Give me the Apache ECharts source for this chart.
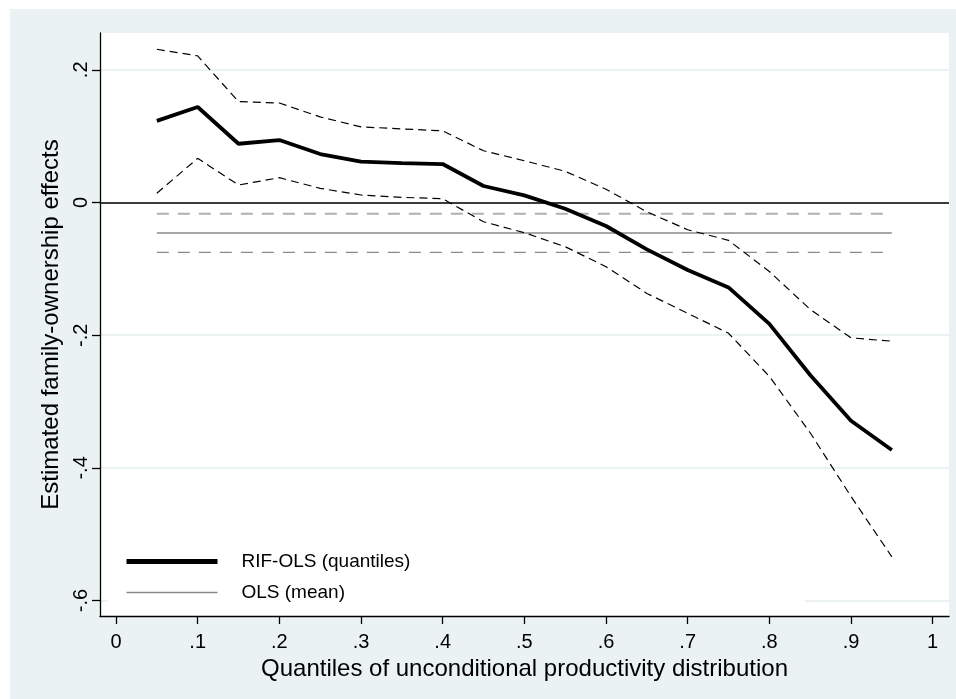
<!DOCTYPE html>
<html>
<head>
<meta charset="utf-8">
<script src="https://cdn.jsdelivr.net/npm/echarts@6/dist/echarts.min.js"></script>
<style>
  html, body { margin: 0; padding: 0; background: #ffffff; }
  #wrap { position: absolute; left: 10px; top: 9px; width: 946px; height: 690px; background: #EAF2F3; }
  #chart { width: 946px; height: 690px; }
</style>
</head>
<body>
<div id="wrap"><div id="chart"></div></div>
<script>
// ---- data ----
const quantiles = [0.05, 0.10, 0.15, 0.20, 0.25, 0.30, 0.35, 0.40, 0.45, 0.50,
                   0.55, 0.60, 0.65, 0.70, 0.75, 0.80, 0.85, 0.90, 0.95];
const rifOls = [0.123, 0.144, 0.0886, 0.0942, 0.0731, 0.0615, 0.0595, 0.058, 0.0249, 0.0108,
                -0.0093, -0.0354, -0.0706, -0.1017, -0.128, -0.183, -0.260, -0.329, -0.373];
const rifUpper = [0.231, 0.221, 0.152, 0.150, 0.129, 0.114, 0.111, 0.108, 0.078, 0.063,
                  0.047, 0.020, -0.014, -0.041, -0.057, -0.104, -0.161, -0.204, -0.209];
const rifLower = [0.014, 0.0666, 0.0264, 0.0374, 0.0214, 0.0113, 0.0078, 0.0057, -0.029, -0.0455,
                  -0.0666, -0.0967, -0.137, -0.167, -0.197, -0.262, -0.347, -0.443, -0.534];
const olsMean = -0.046;
const olsUpper = -0.017;
const olsLower = -0.075;
const xTicks = [0, 0.1, 0.2, 0.3, 0.4, 0.5, 0.6, 0.7, 0.8, 0.9, 1];
const yTicks = [-0.6, -0.4, -0.2, 0, 0.2];
const legendNames = ['RIF-OLS (quantiles)', 'OLS (mean)'];

function pairs(vals) { return quantiles.map((q, i) => [q, vals[i]]); }
function flat(v) { return quantiles.map(q => [q, v]); }
function fmt(v) {
  if (Math.abs(v) < 1e-9) return '0';
  if (Math.abs(v - 1) < 1e-9) return '1';
  let s = String(Math.round(v * 10) / 10);
  return s.replace('0.', '.');
}

const FONT = '"Liberation Sans", Arial, sans-serif';
const chart = echarts.init(document.getElementById('chart'), null, { renderer: 'canvas' });

chart.setOption({
  backgroundColor: '#EAF2F3',
  animation: false,
  textStyle: { fontFamily: FONT, color: '#000' },
  grid: {
    left: 90, right: 7, top: 24, bottom: 83,
    show: true, backgroundColor: '#ffffff', borderWidth: 0
  },
  graphic: [{
    type: 'rect', z: 1,
    shape: { x: 98, y: 527, width: 697, height: 76 },
    style: { fill: '#ffffff' }
  }],
  legend: {
    data: [
      { name: legendNames[0], lineStyle: { width: 5, color: '#000' } },
      { name: legendNames[1], lineStyle: { width: 1.5, color: '#8a8a8a' } }
    ],
    orient: 'vertical',
    left: 109, top: 538,
    itemWidth: 91, itemHeight: 20, itemGap: 12,
    itemStyle: { opacity: 0 },
    textStyle: { fontFamily: FONT, fontSize: 19, color: '#000', padding: [0, 0, 0, 19] },
    z: 5
  },
  xAxis: {
    type: 'value', min: -0.0196, max: 1.02,
    name: 'Quantiles of unconditional productivity distribution',
    nameLocation: 'middle', nameGap: 28,
    nameTextStyle: { fontFamily: FONT, fontSize: 24, color: '#000' },
    axisLine: { show: true, onZero: false, lineStyle: { color: '#000', width: 1.3 } },
    axisTick: { show: true, length: 8, lineStyle: { color: '#000', width: 1.3 }, customValues: xTicks },
    axisLabel: { fontFamily: FONT, fontSize: 20, color: '#000', margin: 16, customValues: xTicks, formatter: fmt },
    splitLine: { show: false }
  },
  yAxis: {
    type: 'value', min: -0.6232, max: 0.2555,
    name: 'Estimated family-ownership effects',
    nameLocation: 'middle', nameGap: 34,
    nameTextStyle: { fontFamily: FONT, fontSize: 24, color: '#000' },
    axisLine: { show: true, onZero: false, lineStyle: { color: '#000', width: 1.3 } },
    axisTick: { show: true, length: 8, lineStyle: { color: '#000', width: 1.3 }, customValues: yTicks },
    axisLabel: { fontFamily: FONT, fontSize: 20, color: '#000', rotate: 90, margin: 9, customValues: yTicks, formatter: fmt },
    splitLine: { show: true, lineStyle: { color: '#EAF2F3', width: 2 } }
  },
  series: [
    {
      name: 'upper', type: 'line', data: pairs(rifUpper), symbol: 'none', z: 3,
      lineStyle: { color: '#000', width: 1.2, type: [8, 5] }
    },
    {
      name: 'lower', type: 'line', data: pairs(rifLower), symbol: 'none', z: 3,
      lineStyle: { color: '#000', width: 1.2, type: [8, 5] }
    },
    {
      name: 'OLS upper', type: 'line', data: flat(olsUpper), symbol: 'none', z: 2,
      lineStyle: { color: '#b0b0b0', width: 2, type: [12, 9] }
    },
    {
      name: legendNames[1], type: 'line', data: flat(olsMean), symbol: 'none', z: 2,
      itemStyle: { color: '#8a8a8a' },
      lineStyle: { color: '#8a8a8a', width: 1.5 },
      markLine: {
        silent: true, symbol: 'none', label: { show: false },
        lineStyle: { color: '#000', width: 1.5, type: 'solid' },
        data: [{ yAxis: 0 }]
      }
    },
    {
      name: 'OLS lower', type: 'line', data: flat(olsLower), symbol: 'none', z: 2,
      lineStyle: { color: '#8a8a8a', width: 1.2, type: [12, 9] }
    },
    {
      name: legendNames[0], type: 'line', data: pairs(rifOls), symbol: 'none', z: 4,
      itemStyle: { color: '#000' },
      lineStyle: { color: '#000', width: 3.8 }
    }
  ]
});
</script>
</body>
</html>
